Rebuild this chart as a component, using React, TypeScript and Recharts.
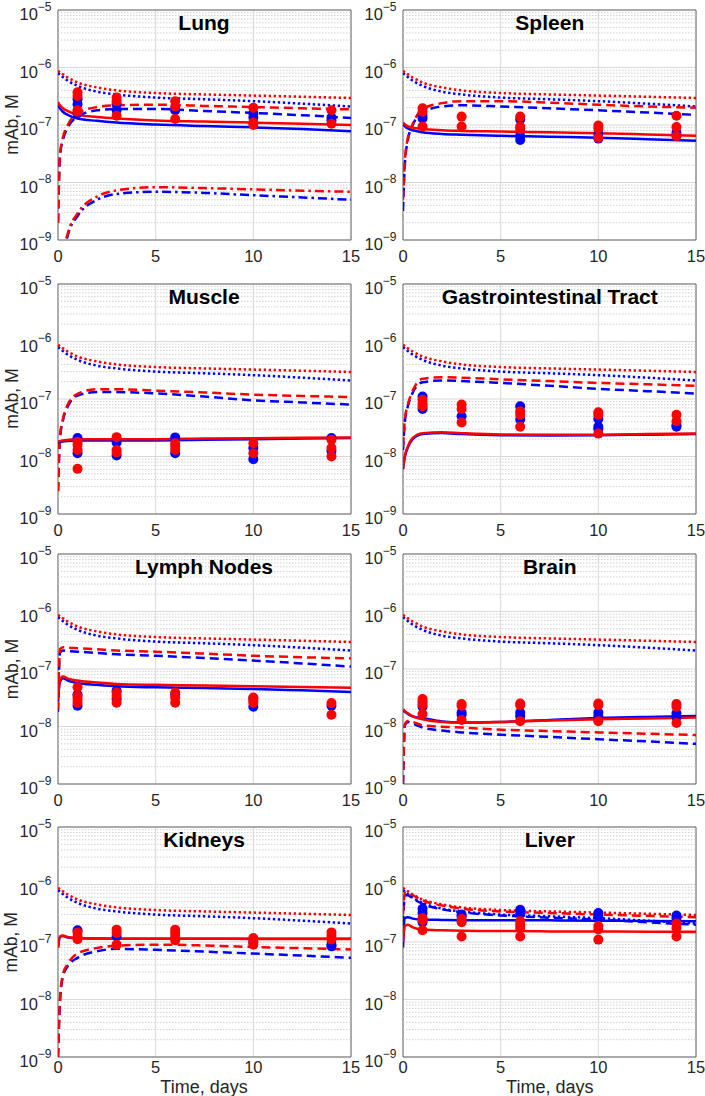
import React from "react";
import {
  ComposedChart,
  Line,
  Scatter,
  XAxis,
  YAxis,
  CartesianGrid,
  ReferenceLine,
  ReferenceArea,
} from "recharts";

// sampling times (days) shared by every model curve
const T = [0, 0.1, 0.25, 0.5, 1, 2, 3, 5, 7.5, 10, 12.5, 15];
const X_TICKS = [0, 5, 10, 15];
const Y_TICKS = [1e-9, 1e-8, 1e-7, 1e-6, 1e-5];

// plasma curves (dotted), identical in every panel
const plasmaRed = [8.8e-7, 8.3e-7, 7.6e-7, 6.7e-7, 5.5e-7, 4.5e-7, 4.0e-7, 3.6e-7, 3.4e-7, 3.25e-7, 3.1e-7, 2.95e-7];
const plasmaBlue = [8.0e-7, 7.5e-7, 6.8e-7, 5.9e-7, 4.8e-7, 3.8e-7, 3.4e-7, 3.0e-7, 2.8e-7, 2.6e-7, 2.35e-7, 2.1e-7];

// Lung
const lungSolidRed = [2.5e-7, 2.2e-7, 1.95e-7, 1.75e-7, 1.5e-7, 1.38e-7, 1.3e-7, 1.2e-7, 1.15e-7, 1.1e-7, 1.05e-7, 1.0e-7];
const lungSolidBlue = [2.2e-7, 1.95e-7, 1.7e-7, 1.5e-7, 1.3e-7, 1.18e-7, 1.1e-7, 1.02e-7, 9.6e-8, 9.1e-8, 8.5e-8, 7.8e-8];
const lungDashRed = [2e-9, 3e-8, 6e-8, 1.0e-7, 1.6e-7, 2.05e-7, 2.2e-7, 2.25e-7, 2.15e-7, 2.05e-7, 1.95e-7, 1.87e-7];
const lungDashBlue = [2e-9, 2.8e-8, 5.5e-8, 9e-8, 1.4e-7, 1.8e-7, 1.9e-7, 1.9e-7, 1.75e-7, 1.62e-7, 1.48e-7, 1.33e-7];
const lungDashDotRed = [1e-11, 1e-10, 5e-10, 1.3e-9, 2.9e-9, 5.7e-9, 7.3e-9, 8.3e-9, 8.0e-9, 7.6e-9, 7.2e-9, 6.9e-9];
const lungDashDotBlue = [1e-11, 1e-10, 4.5e-10, 1.2e-9, 2.6e-9, 5e-9, 6.3e-9, 6.9e-9, 6.6e-9, 6.0e-9, 5.5e-9, 5.0e-9];
const lungPtsRed = [[1, 3.7e-7], [1, 3.2e-7], [1, 1.8e-7], [1, 1.7e-7], [3, 3.0e-7], [3, 2.6e-7], [3, 1.45e-7], [6, 2.6e-7], [6, 2.1e-7], [6, 1.27e-7], [10, 2.0e-7], [10, 1.1e-7], [10, 1.0e-7], [14, 1.8e-7], [14, 1.05e-7]];
const lungPtsBlue = [[1, 2.8e-7], [1, 2.3e-7], [1, 1.6e-7], [3, 2.3e-7], [3, 1.8e-7], [6, 1.9e-7], [6, 1.8e-7], [10, 1.6e-7], [10, 1.35e-7], [14, 1.35e-7], [14, 1.2e-7]];

// Spleen
const spleenSolidRed = [1.1e-7, 1.02e-7, 9.5e-8, 9e-8, 8.5e-8, 8.1e-8, 7.9e-8, 7.7e-8, 7.45e-8, 7.2e-8, 6.85e-8, 6.5e-8];
const spleenSolidBlue = [1.04e-7, 9.5e-8, 8.7e-8, 8.1e-8, 7.5e-8, 7.0e-8, 6.8e-8, 6.5e-8, 6.25e-8, 6.0e-8, 5.65e-8, 5.3e-8];
const spleenDashRed = [5e-9, 2.5e-8, 6e-8, 1.05e-7, 1.9e-7, 2.4e-7, 2.6e-7, 2.6e-7, 2.45e-7, 2.25e-7, 2.1e-7, 2.0e-7];
const spleenDashBlue = [3.2e-9, 2.2e-8, 5.5e-8, 1.0e-7, 1.65e-7, 2.1e-7, 2.2e-7, 2.1e-7, 1.95e-7, 1.8e-7, 1.65e-7, 1.5e-7];
const spleenPtsRed = [[1, 1.95e-7], [1, 1.7e-7], [1, 9.4e-8], [3, 1.4e-7], [3, 9.4e-8], [6, 1.4e-7], [6, 9.4e-8], [6, 8.5e-8], [10, 9.8e-8], [10, 8.7e-8], [10, 6e-8], [14, 1.45e-7], [14, 9.2e-8], [14, 6.4e-8]];
const spleenPtsBlue = [[1, 1.45e-7], [1, 1.3e-7], [6, 1.25e-7], [6, 6.5e-8], [6, 5.5e-8], [10, 7e-8], [10, 5.8e-8], [14, 7.3e-8]];

// Muscle
const muscleSolidRed = [1.83e-8, 1.85e-8, 1.9e-8, 1.95e-8, 2.0e-8, 2.0e-8, 2.0e-8, 2.0e-8, 2.05e-8, 2.08e-8, 2.12e-8, 2.15e-8];
const muscleSolidBlue = [1.75e-8, 1.78e-8, 1.82e-8, 1.86e-8, 1.9e-8, 1.9e-8, 1.9e-8, 1.9e-8, 1.95e-8, 2.0e-8, 2.05e-8, 2.1e-8];
const muscleDashRed = [2.5e-9, 2.2e-8, 4.5e-8, 8e-8, 1.23e-7, 1.48e-7, 1.48e-7, 1.4e-7, 1.3e-7, 1.19e-7, 1.13e-7, 1.08e-7];
const muscleDashBlue = [2.5e-9, 2.0e-8, 4.2e-8, 7.4e-8, 1.15e-7, 1.32e-7, 1.32e-7, 1.25e-7, 1.1e-7, 9.5e-8, 8.7e-8, 8e-8];
const musclePtsRed = [[1, 1.8e-8], [1, 1.6e-8], [1, 1.3e-8], [1, 6.1e-9], [3, 2.17e-8], [3, 1.3e-8], [3, 1.17e-8], [6, 1.7e-8], [6, 1.5e-8], [6, 1.3e-8], [10, 1.7e-8], [10, 1.14e-8], [14, 1.95e-8], [14, 1.4e-8], [14, 1.0e-8]];
const musclePtsBlue = [[1, 2.1e-8], [1, 1.14e-8], [3, 1.75e-8], [3, 1.04e-8], [6, 2.15e-8], [6, 1.14e-8], [10, 1.4e-8], [10, 9e-9], [14, 2.1e-8], [14, 1.25e-8]];

// Gastrointestinal Tract
const giSolidRed = [6.3e-9, 1.05e-8, 1.5e-8, 2.1e-8, 2.55e-8, 2.65e-8, 2.55e-8, 2.42e-8, 2.4e-8, 2.4e-8, 2.45e-8, 2.5e-8];
const giSolidBlue = [6.0e-9, 1.0e-8, 1.45e-8, 2.0e-8, 2.45e-8, 2.55e-8, 2.45e-8, 2.35e-8, 2.33e-8, 2.35e-8, 2.4e-8, 2.45e-8];
const giDashRed = [1.5e-8, 4.5e-8, 8e-8, 1.4e-7, 2.25e-7, 2.4e-7, 2.35e-7, 2.2e-7, 2.05e-7, 1.9e-7, 1.8e-7, 1.7e-7];
const giDashBlue = [1.3e-8, 4.2e-8, 7.5e-8, 1.3e-7, 1.95e-7, 2.1e-7, 2.05e-7, 1.9e-7, 1.7e-7, 1.5e-7, 1.37e-7, 1.24e-7];
const giPtsRed = [[1, 9.7e-8], [1, 8.3e-8], [1, 7.5e-8], [3, 8e-8], [3, 6.7e-8], [3, 3.9e-8], [6, 6.1e-8], [6, 5.3e-8], [6, 3.3e-8], [10, 5.9e-8], [10, 5.3e-8], [10, 2.5e-8], [14, 5.3e-8], [14, 4.1e-8]];
const giPtsBlue = [[1, 1.1e-7], [1, 6.7e-8], [3, 5e-8], [6, 7.5e-8], [6, 4.4e-8], [10, 4.5e-8], [10, 3.3e-8], [10, 3e-8], [14, 3.5e-8], [14, 3.3e-8]];

// Lymph Nodes
const lymphSolidRed = [3e-8, 6.5e-8, 7.4e-8, 6.8e-8, 6.3e-8, 5.8e-8, 5.5e-8, 5.3e-8, 5.15e-8, 5.0e-8, 4.85e-8, 4.7e-8];
const lymphSolidBlue = [2.8e-8, 6.0e-8, 6.9e-8, 6.3e-8, 5.7e-8, 5.3e-8, 5.0e-8, 4.8e-8, 4.65e-8, 4.5e-8, 4.25e-8, 4.0e-8];
const lymphDashRed = [2e-8, 2.2e-7, 2.4e-7, 2.35e-7, 2.3e-7, 2.2e-7, 2.1e-7, 2.0e-7, 1.85e-7, 1.7e-7, 1.6e-7, 1.53e-7];
const lymphDashBlue = [1.8e-8, 1.9e-7, 2.1e-7, 2.05e-7, 2.0e-7, 1.9e-7, 1.8e-7, 1.7e-7, 1.55e-7, 1.4e-7, 1.25e-7, 1.1e-7];
const lymphPtsRed = [[1, 4.8e-8], [1, 3.4e-8], [1, 3e-8], [1, 2.6e-8], [3, 3.9e-8], [3, 3.4e-8], [3, 2.6e-8], [6, 3.9e-8], [6, 3.2e-8], [6, 2.6e-8], [10, 3.2e-8], [10, 2.85e-8], [10, 2.6e-8], [14, 2.55e-8], [14, 1.6e-8]];
const lymphPtsBlue = [[1, 3.6e-8], [1, 2.3e-8], [3, 4.2e-8], [3, 3e-8], [6, 3.6e-8], [10, 3.1e-8], [10, 2.2e-8], [14, 2.3e-8]];

// Brain
const brainSolidRed = [2.0e-8, 1.85e-8, 1.7e-8, 1.5e-8, 1.34e-8, 1.2e-8, 1.17e-8, 1.2e-8, 1.27e-8, 1.34e-8, 1.38e-8, 1.43e-8];
const brainSolidBlue = [1.95e-8, 1.8e-8, 1.65e-8, 1.5e-8, 1.4e-8, 1.22e-8, 1.17e-8, 1.2e-8, 1.3e-8, 1.4e-8, 1.47e-8, 1.53e-8];
const brainDashRed = [1e-9, 1.1e-8, 1.25e-8, 1.2e-8, 1.05e-8, 9.9e-9, 9.6e-9, 8.8e-9, 8.3e-9, 7.9e-9, 7.5e-9, 7.1e-9];
const brainDashBlue = [1e-9, 1.05e-8, 1.2e-8, 1.12e-8, 9.6e-9, 8.5e-9, 7.9e-9, 7.2e-9, 6.6e-9, 6.0e-9, 5.5e-9, 5.0e-9];
const brainPtsRed = [[1, 3e-8], [1, 2.4e-8], [1, 1.65e-8], [3, 2.45e-8], [3, 2.3e-8], [3, 1.3e-8], [6, 2.5e-8], [6, 2.35e-8], [6, 1.24e-8], [10, 2.5e-8], [10, 2.35e-8], [10, 1.24e-8], [14, 2.45e-8], [14, 2.2e-8], [14, 1.15e-8]];
const brainPtsBlue = [[1, 2.7e-8], [1, 2.2e-8], [3, 1.75e-8], [3, 1.6e-8], [6, 1.75e-8], [6, 1.5e-8], [10, 1.75e-8], [10, 1.5e-8], [14, 1.7e-8], [14, 1.45e-8]];

// Kidneys
const kidneySolidRed = [8e-8, 1.25e-7, 1.3e-7, 1.22e-7, 1.17e-7, 1.15e-7, 1.14e-7, 1.14e-7, 1.14e-7, 1.13e-7, 1.13e-7, 1.13e-7];
const kidneySolidBlue = [8e-8, 1.22e-7, 1.27e-7, 1.2e-7, 1.16e-7, 1.15e-7, 1.14e-7, 1.14e-7, 1.14e-7, 1.14e-7, 1.14e-7, 1.14e-7];
const kidneyDashRed = [1e-9, 1e-8, 2.7e-8, 4.2e-8, 6.3e-8, 7.9e-8, 8.6e-8, 9e-8, 8.7e-8, 8.2e-8, 7.8e-8, 7.4e-8];
const kidneyDashBlue = [1e-9, 9e-9, 2.5e-8, 3.8e-8, 5.3e-8, 6.9e-8, 7.6e-8, 7.3e-8, 6.8e-8, 6.3e-8, 5.8e-8, 5.3e-8];
const kidneyPtsRed = [[1, 1.47e-7], [1, 1.25e-7], [1, 1.12e-7], [3, 1.64e-7], [3, 1.43e-7], [3, 9e-8], [6, 1.64e-7], [6, 1.43e-7], [6, 1.25e-7], [6, 1.07e-7], [10, 1.17e-7], [10, 9.9e-8], [10, 9e-8], [14, 1.47e-7], [14, 1.27e-7], [14, 1.1e-7]];
const kidneyPtsBlue = [[1, 1.6e-7], [3, 1.25e-7], [10, 1e-7], [14, 9e-8], [14, 8.4e-8]];

// Liver
const liverSolidRed = [1.0e-7, 1.9e-7, 2.0e-7, 1.8e-7, 1.65e-7, 1.6e-7, 1.57e-7, 1.55e-7, 1.53e-7, 1.52e-7, 1.51e-7, 1.5e-7];
const liverSolidBlue = [8e-8, 2.6e-7, 2.7e-7, 2.55e-7, 2.45e-7, 2.42e-7, 2.4e-7, 2.4e-7, 2.38e-7, 2.35e-7, 2.32e-7, 2.3e-7];
const liverDashRed = [3e-7, 7.2e-7, 7.3e-7, 6.5e-7, 5.3e-7, 4.3e-7, 3.8e-7, 3.4e-7, 3.2e-7, 3.0e-7, 2.85e-7, 2.7e-7];
const liverDashBlue = [2e-7, 6.5e-7, 6.5e-7, 5.7e-7, 4.6e-7, 3.7e-7, 3.3e-7, 2.9e-7, 2.65e-7, 2.45e-7, 2.2e-7, 2.0e-7];
const liverPtsRed = [[1, 2.6e-7], [1, 2.4e-7], [1, 1.6e-7], [3, 2.5e-7], [3, 2.2e-7], [3, 1.25e-7], [6, 2.3e-7], [6, 2e-7], [6, 1.75e-7], [6, 1.25e-7], [10, 1.9e-7], [10, 1.65e-7], [10, 1.1e-7], [14, 2.1e-7], [14, 1.75e-7], [14, 1.25e-7]];
const liverPtsBlue = [[1, 3.8e-7], [1, 3.2e-7], [1, 2.2e-7], [3, 3e-7], [3, 2.8e-7], [6, 3.65e-7], [6, 3.1e-7], [10, 3.2e-7], [10, 2.8e-7], [14, 2.9e-7], [14, 2.6e-7]];

const RED = "#ff0000";
const BLUE = "#0000ff";
const FONT = "'Liberation Sans', Arial, Helvetica, sans-serif";

// layout (page pixels)
const COLS = [57.5, 403.3];
const ROWS = [9.5, 283.5, 554, 827.3];
const PLOT_W = 293;
const PLOT_H = 230;
const Y_AXIS_W = 55;
const TOP_PAD = 10;

const MINOR: number[] = [];
[1e-9, 1e-8, 1e-7, 1e-6].forEach((d) => {
  for (let k = 2; k <= 9; k++) MINOR.push(k * d);
});

const curve = (vals: number[]) => T.map((t, i) => ({ t, v: vals[i] }));
const pts = (list: number[][]) => list.map(([t, v]) => ({ t, v }));

const panels = [
  { title: "Lung", col: 0, row: 0, sr: lungSolidRed, sb: lungSolidBlue, dr: lungDashRed, db: lungDashBlue, ddr: lungDashDotRed, ddb: lungDashDotBlue, pr: lungPtsRed, pb: lungPtsBlue },
  { title: "Spleen", col: 1, row: 0, sr: spleenSolidRed, sb: spleenSolidBlue, dr: spleenDashRed, db: spleenDashBlue, pr: spleenPtsRed, pb: spleenPtsBlue },
  { title: "Muscle", col: 0, row: 1, sr: muscleSolidRed, sb: muscleSolidBlue, dr: muscleDashRed, db: muscleDashBlue, pr: musclePtsRed, pb: musclePtsBlue },
  { title: "Gastrointestinal Tract", col: 1, row: 1, sr: giSolidRed, sb: giSolidBlue, dr: giDashRed, db: giDashBlue, pr: giPtsRed, pb: giPtsBlue },
  { title: "Lymph Nodes", col: 0, row: 2, sr: lymphSolidRed, sb: lymphSolidBlue, dr: lymphDashRed, db: lymphDashBlue, pr: lymphPtsRed, pb: lymphPtsBlue },
  { title: "Brain", col: 1, row: 2, sr: brainSolidRed, sb: brainSolidBlue, dr: brainDashRed, db: brainDashBlue, pr: brainPtsRed, pb: brainPtsBlue },
  { title: "Kidneys", col: 0, row: 3, sr: kidneySolidRed, sb: kidneySolidBlue, dr: kidneyDashRed, db: kidneyDashBlue, pr: kidneyPtsRed, pb: kidneyPtsBlue },
  { title: "Liver", col: 1, row: 3, sr: liverSolidRed, sb: liverSolidBlue, dr: liverDashRed, db: liverDashBlue, pr: liverPtsRed, pb: liverPtsBlue },
];

const YTick = ({ y, payload }: any) => {
  const exp = Math.round(Math.log10(payload.value));
  return (
    <text x={Y_AXIS_W - 6.5} y={y + 10} textAnchor="end" fill="#262626" fontFamily={FONT}>
      <tspan fontSize={16.5}>10</tspan>
      <tspan fontSize={12} dy={-9.5}>{"\u2212" + Math.abs(exp)}</tspan>
    </text>
  );
};

const makeXTick = (dy: number) => ({ x, payload }: any) => (
  <text x={x} y={TOP_PAD + PLOT_H + dy} textAnchor="middle" fill="#262626" fontFamily={FONT} fontSize={16.5}>
    {payload.value}
  </text>
);

const dot = (color: string) => (p: any) => <circle cx={p.cx} cy={p.cy} r={5} fill={color} />;

function Panel({ p }: { p: (typeof panels)[number] }) {
  const left = COLS[p.col] - Y_AXIS_W;
  const top = ROWS[p.row] - TOP_PAD;
  const lw = 2.5;
  return (
    <div style={{ position: "absolute", left, top }}>
      <ComposedChart
        width={Y_AXIS_W + PLOT_W + 12}
        height={TOP_PAD + PLOT_H + 30}
        margin={{ top: TOP_PAD, right: 12, bottom: 0, left: 0 }}
      >
        <CartesianGrid stroke="#d8d8d8" strokeWidth={1} />
        {MINOR.map((v) => (
          <ReferenceLine key={v} y={v} stroke="#d0d0d0" strokeDasharray="1.5 1.5" strokeWidth={1} />
        ))}
        <XAxis
          type="number"
          dataKey="t"
          domain={[0, 15]}
          ticks={X_TICKS}
          allowDataOverflow
          height={30}
          axisLine={false}
          tickLine={false}
          tick={makeXTick(p.row === 3 ? 16 : 22)}
        />
        <YAxis
          type="number"
          dataKey="v"
          scale="log"
          domain={[1e-9, 1e-5]}
          ticks={Y_TICKS}
          allowDataOverflow
          width={Y_AXIS_W}
          axisLine={false}
          tickLine={false}
          tick={<YTick />}
        />
        <ReferenceArea x1={0} x2={15} y1={1e-9} y2={1e-5} fill="none" fillOpacity={0} stroke="#6a6a6a" strokeWidth={1} />
        <Line data={curve(plasmaBlue)} dataKey="v" type="monotone" stroke={BLUE} strokeWidth={lw} strokeDasharray="2.4 2.6" dot={false} isAnimationActive={false} />
        <Line data={curve(plasmaRed)} dataKey="v" type="monotone" stroke={RED} strokeWidth={lw} strokeDasharray="2.4 2.6" dot={false} isAnimationActive={false} />
        <Line data={curve(p.db)} dataKey="v" type="monotone" stroke={BLUE} strokeWidth={lw} strokeDasharray="9 5" dot={false} isAnimationActive={false} />
        <Line data={curve(p.dr)} dataKey="v" type="monotone" stroke={RED} strokeWidth={lw} strokeDasharray="9 5" dot={false} isAnimationActive={false} />
        {p.ddb && (
          <Line data={curve(p.ddb)} dataKey="v" type="monotone" stroke={BLUE} strokeWidth={lw} strokeDasharray="9 4 2.5 4" dot={false} isAnimationActive={false} />
        )}
        {p.ddr && (
          <Line data={curve(p.ddr)} dataKey="v" type="monotone" stroke={RED} strokeWidth={lw} strokeDasharray="9 4 2.5 4" dot={false} isAnimationActive={false} />
        )}
        <Line data={curve(p.sb)} dataKey="v" type="monotone" stroke={BLUE} strokeWidth={lw} dot={false} isAnimationActive={false} />
        <Line data={curve(p.sr)} dataKey="v" type="monotone" stroke={RED} strokeWidth={lw} dot={false} isAnimationActive={false} />
        <Scatter data={pts(p.pb)} dataKey="v" fill={BLUE} shape={dot(BLUE)} isAnimationActive={false} />
        <Scatter data={pts(p.pr)} dataKey="v" fill={RED} shape={dot(RED)} isAnimationActive={false} />
      </ComposedChart>
    </div>
  );
}

export default function App() {
  return (
    <div style={{ position: "relative", width: 705, height: 1096, background: "#fff", overflow: "hidden" }}>
      <style>{"body{margin:0}"}</style>
      {panels.map((p) => (
        <Panel key={p.title} p={p} />
      ))}
      <svg width={705} height={1096} style={{ position: "absolute", left: 0, top: 0, pointerEvents: "none" }}>
        {panels.map((p) => (
          <text
            key={p.title}
            x={COLS[p.col] + PLOT_W / 2}
            y={ROWS[p.row] + 20}
            textAnchor="middle"
            fontFamily={FONT}
            fontWeight="bold"
            fontSize={21}
            fill="#000"
          >
            {p.title}
          </text>
        ))}
        {ROWS.map((r) => (
          <text
            key={r}
            x={17.5}
            y={r + PLOT_H / 2}
            transform={`rotate(-90, 17.5, ${r + PLOT_H / 2})`}
            textAnchor="middle"
            fontFamily={FONT}
            fontSize={17.5}
            fill="#262626"
          >
            mAb, M
          </text>
        ))}
        {COLS.map((c) => (
          <text key={c} x={c + PLOT_W / 2} y={1093} textAnchor="middle" fontFamily={FONT} fontSize={18} fill="#262626">
            Time, days
          </text>
        ))}
      </svg>
    </div>
  );
}
